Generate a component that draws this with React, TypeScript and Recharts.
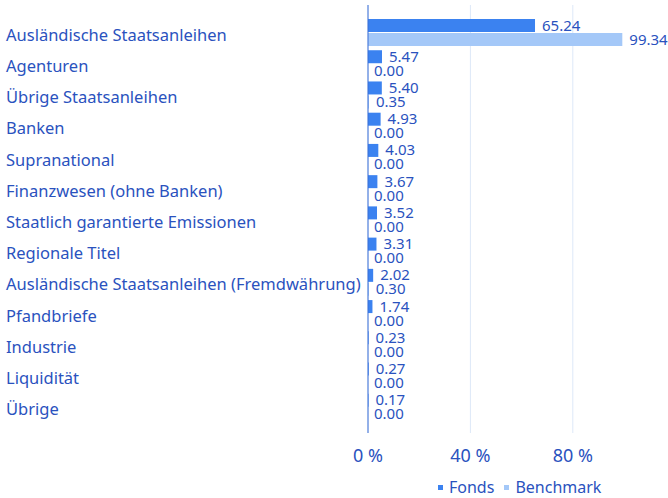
import { BarChart, Bar, XAxis, YAxis, CartesianGrid, LabelList } from 'recharts'

const categories = [
  'Ausländische Staatsanleihen',
  'Agenturen',
  'Übrige Staatsanleihen',
  'Banken',
  'Supranational',
  'Finanzwesen (ohne Banken)',
  'Staatlich garantierte Emissionen',
  'Regionale Titel',
  'Ausländische Staatsanleihen (Fremdwährung)',
  'Pfandbriefe',
  'Industrie',
  'Liquidität',
  'Übrige',
]
const fonds = [65.24, 5.47, 5.4, 4.93, 4.03, 3.67, 3.52, 3.31, 2.02, 1.74, 0.23, 0.27, 0.17]
const benchmark = [99.34, 0, 0.35, 0, 0, 0, 0, 0, 0.3, 0, 0, 0, 0]
const xTicks = [0, 40, 80]
const xMax = 100

const TEXT = '#2a52be'
const FONDS = '#3b82f0'
const BENCH = '#a4c8f8'
const FONT = '"Noto Sans", sans-serif'
const BAR = 13
const GAP = 1

const data = categories.map((name, i) => ({ name, fonds: fonds[i], benchmark: benchmark[i] }))

const fmt = (v: any) => Number(v).toFixed(2)

// grid only at the tick values, not at the right edge of the plot
const gridX = ({ xAxis, offset }: any) =>
  xTicks.map((t) =>
    xAxis && typeof xAxis.scale === 'function'
      ? xAxis.scale(t)
      : offset.left + (offset.width * t) / xMax,
  )

const CategoryTick = ({ y, payload }: any) => (
  <text x={6} y={y} dy={8} textAnchor="start" fill={TEXT} fontSize={16.5} fontFamily={FONT}>
    {payload.value}
  </text>
)

// zero-width bars get no label from recharts, so the fonds label also writes a zero benchmark
const FondsLabel = (props: any) => {
  const { x, y, width, height, value, index } = props
  const zeroBench = benchmark[index] === 0
  return (
    <g>
      <text x={x + width + 7} y={y + height / 2} dy={5} fill={TEXT} fontSize={15} fontFamily={FONT}>
        {fmt(value)}
      </text>
      {zeroBench && (
        <text x={x + 6} y={y + height + GAP + height / 2} dy={5} fill={TEXT} fontSize={15} fontFamily={FONT}>
          {fmt(0)}
        </text>
      )}
    </g>
  )
}

const BenchLabel = (props: any) => {
  const { x, y, width, height, value } = props
  if (!value) return null
  return (
    <text x={x + width + 7} y={y + height / 2} dy={5} fill={TEXT} fontSize={15} fontFamily={FONT}>
      {fmt(value)}
    </text>
  )
}

const legendItem = (label: string, color: string) => (
  <span style={{ display: 'flex', alignItems: 'center' }}>
    <span style={{ width: 5, height: 5, background: color, marginRight: 6, display: 'inline-block' }} />
    {label}
  </span>
)

export default function App() {
  return (
    <div style={{ position: 'absolute', left: 0, top: 0, width: 668, height: 498, background: '#fff' }}>
      <BarChart
        width={668}
        height={498}
        data={data}
        layout="vertical"
        margin={{ top: 5, right: 44, bottom: 35, left: 0 }}
        barSize={BAR}
        barGap={GAP}
      >
        <CartesianGrid horizontal={false} stroke="#dde8f8" verticalCoordinatesGenerator={gridX} />
        <XAxis
          type="number"
          domain={[0, xMax]}
          ticks={xTicks}
          axisLine={false}
          tickLine={false}
          tickFormatter={(v) => `${v} %`}
          tick={{ fill: TEXT, fontSize: 18, fontFamily: FONT }}
          tickMargin={10}
        />
        <YAxis
          type="category"
          dataKey="name"
          width={368}
          tick={<CategoryTick />}
          tickLine={false}
          axisLine={{ stroke: '#3b6fd6' }}
          padding={{ top: 12, bottom: 10 }}
          interval={0}
        />
        <Bar dataKey="fonds" name="Fonds" fill={FONDS} isAnimationActive={false}>
          <LabelList dataKey="fonds" content={<FondsLabel />} />
        </Bar>
        <Bar dataKey="benchmark" name="Benchmark" fill={BENCH} isAnimationActive={false}>
          <LabelList dataKey="benchmark" content={<BenchLabel />} />
        </Bar>
      </BarChart>
      <div
        style={{
          position: 'absolute',
          left: 438,
          top: 476,
          display: 'flex',
          gap: 10,
          fontFamily: FONT,
          fontSize: 16,
          color: TEXT,
          alignItems: 'center',
        }}
      >
        {legendItem('Fonds', FONDS)}
        {legendItem('Benchmark', BENCH)}
      </div>
    </div>
  )
}
